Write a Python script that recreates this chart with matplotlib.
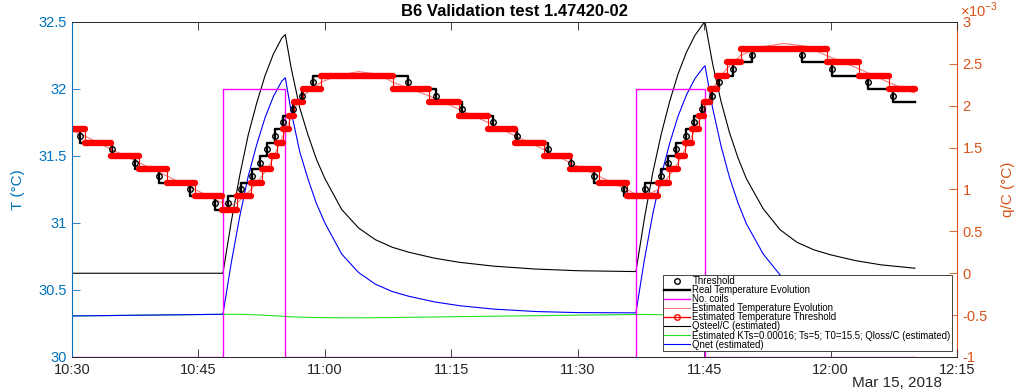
import numpy as np
import pandas as pd
import matplotlib
matplotlib.use('Agg')
import matplotlib.pyplot as plt
import matplotlib.dates as mdates
from matplotlib.lines import Line2D
from matplotlib.ticker import FormatStrFormatter, MultipleLocator

plt.rcParams['font.family'] = ['Liberation Sans', 'DejaVu Sans']
plt.rcParams['mathtext.fontset'] = 'custom'
plt.rcParams['mathtext.rm'] = 'Liberation Sans'

start = pd.Timestamp('2018-03-15 10:30')
t_end = 100.0  # minutes after 10:30 when logging stops

# measured temperature: minutes after 10:30 of each 0.1 degC step, level after it
real_step_min = [0.95, 4.75, 7.47, 10.32, 14.0, 16.97,
                 18.51, 20.05, 21.36, 22.30, 23.13, 24.08, 25.03, 26.22, 27.29, 28.59,
                 39.86, 43.19, 46.27, 49.95, 52.80, 56.47, 59.20, 61.93, 65.49,
                 67.98, 69.88, 70.71, 71.66, 72.85, 73.80, 74.74, 75.93, 76.76, 78.42, 80.68,
                 86.61, 90.17, 94.44, 97.41]
real_levels = [31.7, 31.6, 31.5, 31.4, 31.3, 31.2, 31.1,
               31.2, 31.3, 31.4, 31.5, 31.6, 31.7, 31.8, 31.9, 32.0, 32.1,
               32.0, 31.9, 31.8, 31.7, 31.6, 31.5, 31.4, 31.3, 31.2,
               31.3, 31.4, 31.5, 31.6, 31.7, 31.8, 31.9, 32.0, 32.1, 32.2, 32.3,
               32.2, 32.1, 32.0, 31.9]

# estimated temperature, quantised to the sensor threshold
est_step_min = [1.48, 4.63, 7.95, 11.27, 14.59, 17.80,
                19.58, 21.24, 22.54, 23.61, 24.32, 25.03, 25.75, 26.34, 27.41, 29.54,
                38.08, 42.30, 45.86, 49.36, 52.56, 55.94, 59.08, 62.47, 65.79,
                69.53, 70.84, 71.90, 72.73, 73.56, 74.33, 74.98, 75.69, 76.47, 77.65, 79.32,
                89.52, 93.38, 96.87]
est_levels = [31.7, 31.6, 31.5, 31.4, 31.3, 31.2, 31.1,
              31.2, 31.3, 31.4, 31.5, 31.6, 31.7, 31.8, 31.9, 32.0, 32.1,
              32.0, 31.9, 31.8, 31.7, 31.6, 31.5, 31.4, 31.3, 31.2,
              31.3, 31.4, 31.5, 31.6, 31.7, 31.8, 31.9, 32.0, 32.1, 32.2, 32.3,
              32.2, 32.1, 32.0]

# estimated temperature evolution (continuous)
est_min = [0, 1.48, 4.63, 7.95, 11.27, 14.59, 17.80, 18.63, 19.58,
           21.24, 22.54, 23.61, 24.32, 25.03, 25.75, 26.34, 27.41, 29.54, 31.5, 34.0, 36.3,
           38.08, 42.30, 45.86, 49.36, 52.56, 55.94, 59.08, 62.47, 65.79, 67.63,
           69.53, 70.84, 71.90, 72.73, 73.56, 74.33, 74.98, 75.69, 76.47, 77.65, 79.32,
           81.5, 84.4, 87.0, 89.52, 93.38, 96.87, 99.9]
est_T = [31.69, 31.65, 31.55, 31.45, 31.35, 31.25, 31.15, 31.13, 31.15,
         31.25, 31.35, 31.45, 31.55, 31.65, 31.75, 31.85, 31.95, 32.05, 32.10, 32.13, 32.11,
         32.05, 31.95, 31.85, 31.75, 31.65, 31.55, 31.45, 31.35, 31.25, 31.19,
         31.25, 31.35, 31.45, 31.55, 31.65, 31.75, 31.85, 31.95, 32.05, 32.15, 32.25,
         32.31, 32.34, 32.32, 32.25, 32.15, 32.05, 31.97]

# number of coils switched on
coil_min = [0, 17.91, 25.27, 66.9, 75.1, t_end]
coil_count = [0, 2, 0, 2, 0]

# heat terms divided by heat capacity, in units of 1e-3 degC
q_min = [0, 17.9, 18.9, 19.9, 20.9, 21.9, 22.9, 23.9, 24.9, 25.3,
         26, 27, 28, 29, 30, 32, 34, 36, 38, 40, 43, 46, 50, 55, 60, 66.9,
         67.9, 68.9, 69.9, 70.9, 71.9, 72.9, 73.9, 74.9, 75.1,
         76, 77, 78, 79, 80, 82, 84, 86, 88, 90, 93, 96, 100]
qsteel_e3 = [0, 0, 0.62, 1.17, 1.65, 2.03, 2.36, 2.62, 2.81, 2.85,
             2.45, 1.98, 1.65, 1.36, 1.13, 0.76, 0.54, 0.40, 0.31, 0.25, 0.18, 0.13, 0.085, 0.05, 0.03, 0.02,
             0.65, 1.20, 1.66, 2.05, 2.38, 2.64, 2.84, 2.98, 3.0,
             2.50, 2.05, 1.68, 1.38, 1.13, 0.77, 0.52, 0.37, 0.28, 0.22, 0.15, 0.10, 0.06]
qloss_e3 = [-0.51, -0.49, -0.49, -0.49, -0.493, -0.497, -0.502, -0.507, -0.513, -0.516,
            -0.52, -0.524, -0.527, -0.529, -0.53, -0.532, -0.532, -0.531, -0.529, -0.526,
            -0.522, -0.518, -0.513, -0.507, -0.50, -0.493,
            -0.492, -0.493, -0.496, -0.50, -0.505, -0.51, -0.516, -0.522, -0.523,
            -0.527, -0.531, -0.534, -0.537, -0.538, -0.54, -0.54, -0.538, -0.535, -0.532,
            -0.528, -0.524, -0.52]
qnet_e3 = np.array(qsteel_e3) + np.array(qloss_e3)


def at(minutes):
    return start + pd.to_timedelta(np.asarray(minutes, dtype=float), unit='min')


blue = (0, 0.447, 0.741)
orange = (0.85, 0.325, 0.098)
dark = (0.15, 0.15, 0.15)

fig = plt.figure(figsize=(10.19, 3.92), dpi=100)
ax = fig.add_axes([0.0707, 0.0893, 0.8685, 0.8546])
ax2 = ax.twinx()
ax.set_zorder(ax2.get_zorder() + 1)
ax.patch.set_visible(False)

# right axis: heat terms
h_qs, = ax2.plot(at(q_min), qsteel_e3, color='black', lw=0.8, label='Qsteel/C (estimated)')
h_ql, = ax2.plot(at(q_min), qloss_e3, color='#22e022', lw=0.8,
                 label='Estimated KTs=0.00016; Ts=5; T0=15.5; Qloss/C (estimated)')
h_qn, = ax2.plot(at(q_min), qnet_e3, color='blue', lw=0.8, label='Qnet (estimated)')

# left axis: temperatures
h_coil, = ax.step(at(coil_min), 30 + np.array(coil_count + [coil_count[-1]]), where='post',
                  color='magenta', lw=1.0, label='No. coils')
h_est, = ax.plot(at(est_min), est_T, color='#f47a7a', lw=0.8, label='Estimated Temperature Evolution')

real_edges = [0] + real_step_min + [t_end]
h_real, = ax.step(at(real_edges), real_levels + [real_levels[-1]], where='post',
                  color='black', lw=1.7, label='Real Temperature Evolution')

est_edges = [0] + est_step_min + [t_end]
ax.step(at(est_edges), est_levels + [est_levels[-1]], where='post', color='red', lw=0.8)
for i, lvl in enumerate(est_levels):
    ax.plot(at([est_edges[i], est_edges[i + 1]]), [lvl, lvl], color='red', lw=4.6,
            solid_capstyle='round')

thr_T = [(a + b) / 2 for a, b in zip(real_levels[:-1], real_levels[1:])]
h_thr, = ax.plot(at(real_step_min), thr_T, 'o', mfc='none', mec='black', ms=4, mew=1.0,
                 label='Threshold')

h_estthr = Line2D([], [], color='red', lw=1.0, marker='o', mfc='none', mec='red', ms=4,
                  label='Estimated Temperature Threshold')

# axes styling
ax.set_xlim(at([0, 105]))
ax.xaxis.set_major_locator(mdates.MinuteLocator(byminute=[0, 15, 30, 45]))
ax.xaxis.set_major_formatter(mdates.DateFormatter('%H:%M'))
ax.set_ylim(30, 32.5)
ax.yaxis.set_major_locator(MultipleLocator(0.5))
ax.yaxis.set_major_formatter(FormatStrFormatter('%g'))
ax2.set_ylim(-1, 3)
ax2.yaxis.set_major_locator(MultipleLocator(0.5))
ax2.yaxis.set_major_formatter(FormatStrFormatter('%g'))

ax.tick_params(axis='x', direction='in', top=True, length=5.5, width=0.6, color=dark,
               labelcolor=dark, labelsize=10.5, pad=4)
ax.tick_params(axis='y', direction='in', right=False, length=5.5, width=0.6, color=blue,
               labelcolor=blue, labelsize=10.5, pad=4)
ax2.tick_params(axis='y', direction='in', length=5.5, width=0.6, color=orange,
                labelcolor=orange, labelsize=10.5, pad=4)

for side in ['top', 'bottom']:
    ax.spines[side].set_color(dark)
    ax.spines[side].set_linewidth(0.7)
ax.spines['left'].set_color(blue)
ax.spines['left'].set_linewidth(0.8)
ax.spines['right'].set_visible(False)
for side in ['top', 'bottom', 'left']:
    ax2.spines[side].set_visible(False)
ax2.spines['right'].set_color(orange)
ax2.spines['right'].set_linewidth(0.8)

ax.set_ylabel('T (°C)', color=blue, fontsize=11)
ax.yaxis.set_label_coords(-0.053, 0.5)
ax2.set_ylabel('q/C (°C)', color=orange, fontsize=11, rotation=90)
ax2.yaxis.set_label_coords(1.050, 0.5)
ax2.text(1.003, 1.035, r'$\times10^{-3}$', transform=ax2.transAxes, color=orange,
         fontsize=10.5, ha='left', va='center')

fig.text(0.5047, 1 - 12 / 392, 'B6 Validation test 1.47420-02', ha='center', va='center',
         fontsize=12, fontweight='bold', color='black')
fig.text(942 / 1019, 1 - 383 / 392, 'Mar 15, 2018', ha='right', va='center',
         fontsize=11, color=dark)

handles = [h_thr, h_real, h_coil, h_est, h_estthr, h_qs, h_ql, h_qn]
leg = ax.legend(handles=handles, labels=[h.get_label() for h in handles],
                loc='lower right', bbox_to_anchor=(952 / 1019, 1 - 351 / 392),
                bbox_transform=fig.transFigure, fontsize=6.9, frameon=True, fancybox=False,
                framealpha=1, edgecolor=dark, borderpad=0.15, labelspacing=-0.1,
                handlelength=2.7, handletextpad=0.25, borderaxespad=0)
leg.get_frame().set_linewidth(0.6)

fig.savefig('out.png', dpi=100)
